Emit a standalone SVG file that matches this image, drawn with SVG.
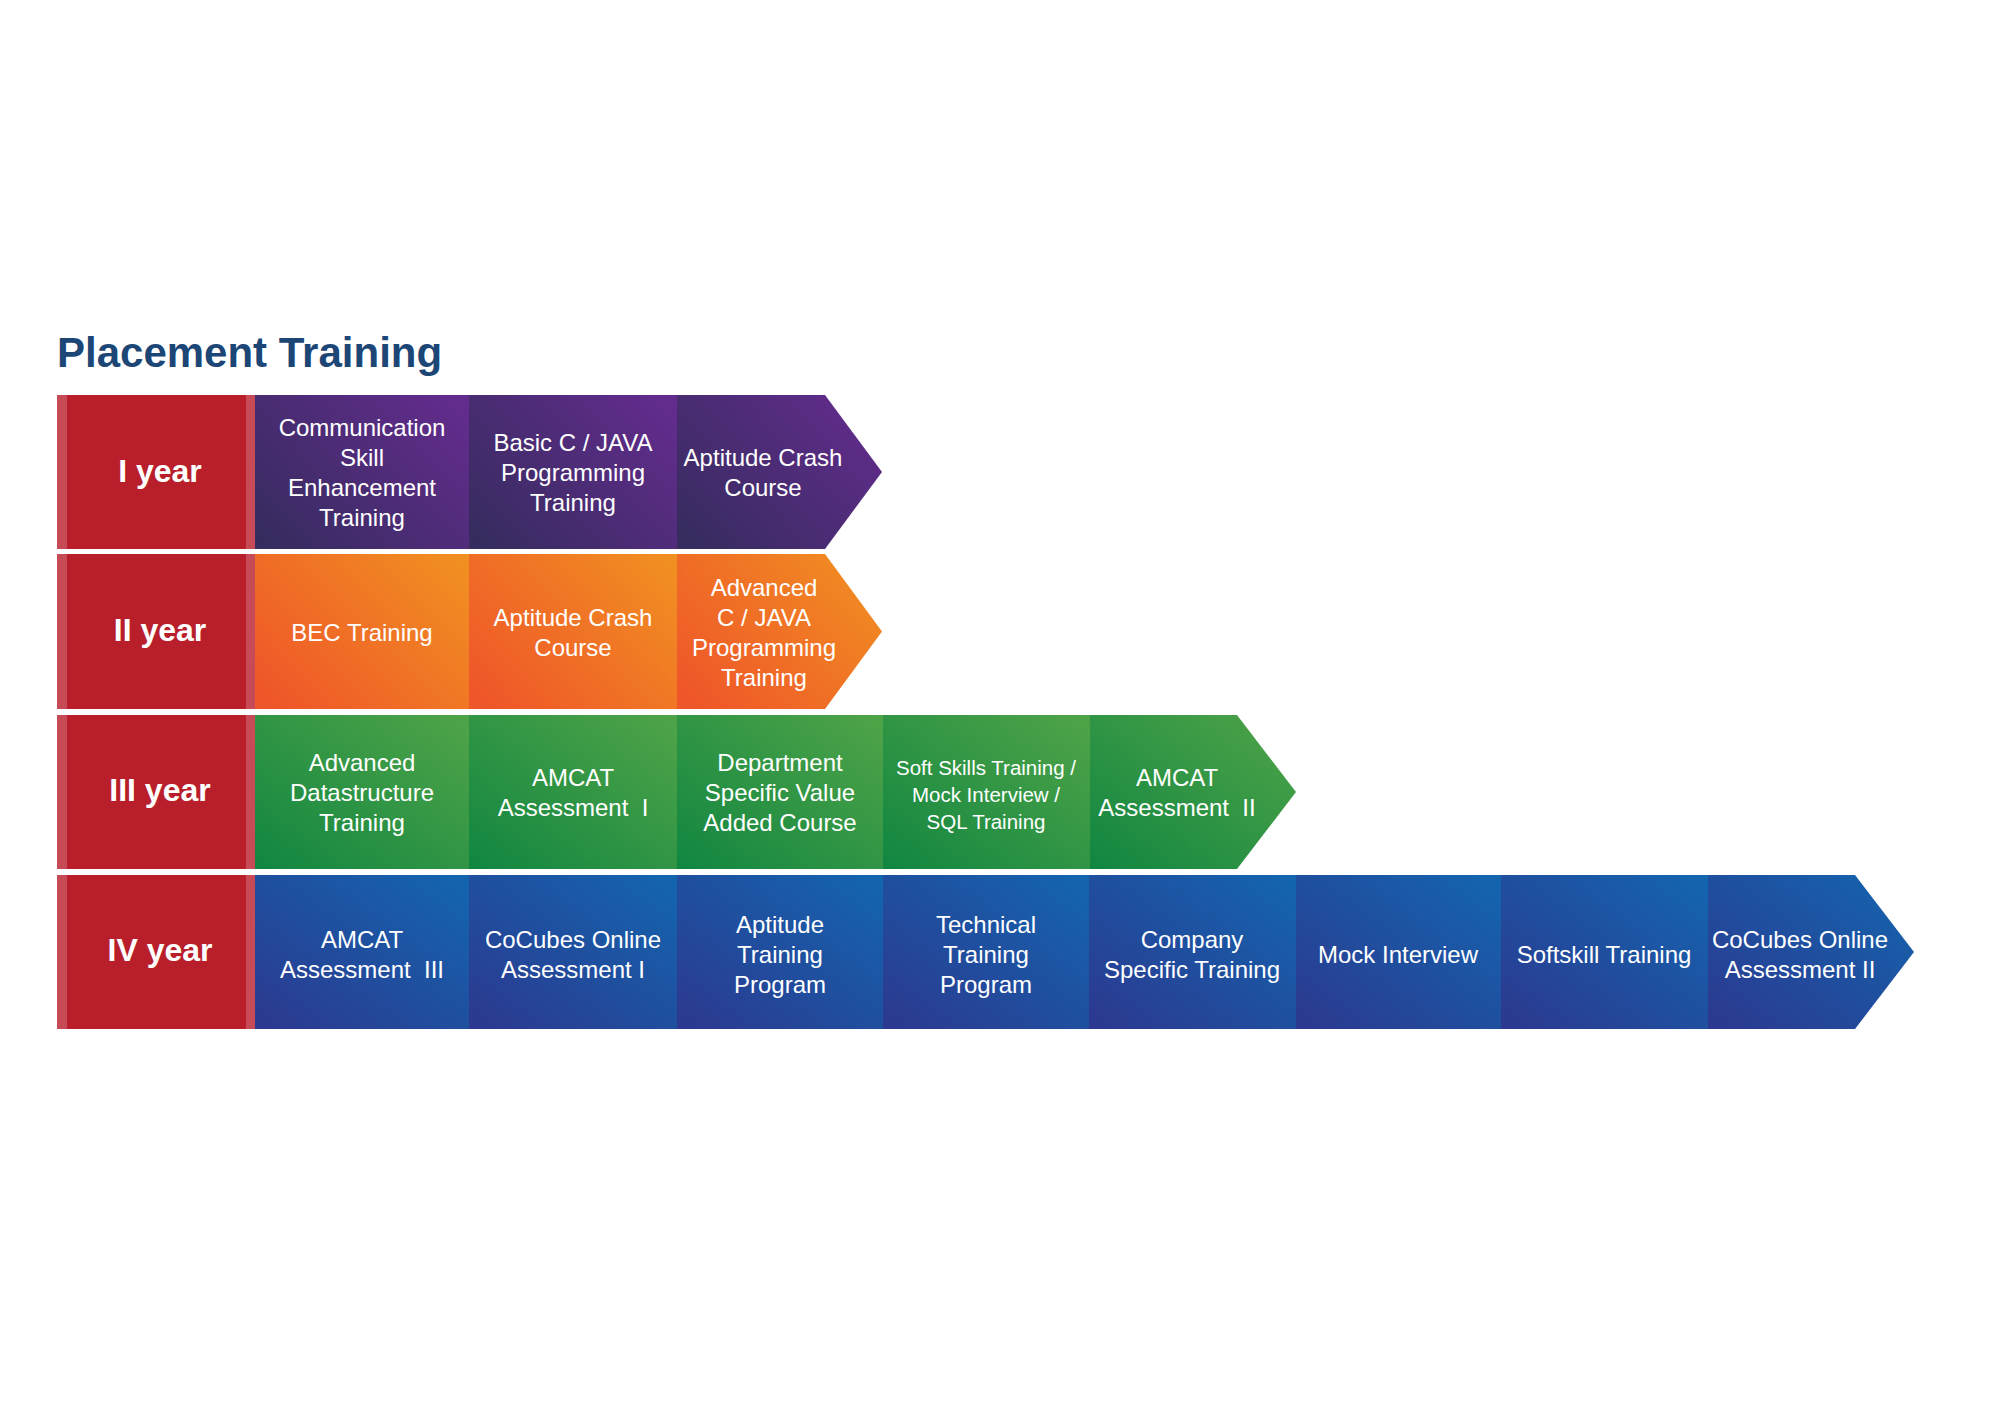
<svg xmlns="http://www.w3.org/2000/svg" width="2000" height="1414" viewBox="0 0 2000 1414">
  <defs>
    <linearGradient id="gPurple" x1="0" y1="0.85" x2="1" y2="0.15">
      <stop offset="0" stop-color="#372C60"/>
      <stop offset="1" stop-color="#622C8C"/>
    </linearGradient>
    <linearGradient id="gOrange" x1="0" y1="0.85" x2="1" y2="0.15">
      <stop offset="0" stop-color="#EF5629"/>
      <stop offset="1" stop-color="#F18E22"/>
    </linearGradient>
    <linearGradient id="gGreen" x1="0" y1="1" x2="1" y2="0">
      <stop offset="0" stop-color="#118641"/>
      <stop offset="1" stop-color="#50A448"/>
    </linearGradient>
    <linearGradient id="gBlue" x1="0" y1="1" x2="1" y2="0">
      <stop offset="0" stop-color="#2C388F"/>
      <stop offset="1" stop-color="#1366AF"/>
    </linearGradient>
    <style>
      .title { font-family: "Liberation Sans", Arial, sans-serif; font-weight: bold; font-size: 42px; fill: #1B4676; }
      .year { font-family: "Liberation Sans", Arial, sans-serif; font-weight: bold; font-size: 32px; fill: #FFFFFF; text-anchor: middle; }
      .lbl { font-family: "Liberation Sans", Arial, sans-serif; font-size: 24px; fill: #FFFFFF; text-anchor: middle; }
      .lbl-s { font-family: "Liberation Sans", Arial, sans-serif; font-size: 20.5px; fill: #FFFFFF; text-anchor: middle; }
      .yr-main { fill: #B81F2A; }
      .yr-edge { fill: #C64B56; }
      .purple { fill: url(#gPurple); }
      .orange { fill: url(#gOrange); }
      .green { fill: url(#gGreen); }
      .blue { fill: url(#gBlue); }
    </style>
  </defs>

  <rect x="0" y="0" width="2000" height="1414" fill="#FFFFFF"/>

  <text class="title" x="57" y="367">Placement Training</text>

  <!-- Year labels -->
  <g id="year-1">
    <rect class="yr-edge" x="57" y="395" width="198" height="154"/>
    <rect class="yr-main" x="67" y="395" width="179" height="154"/>
    <text class="year" x="160" y="482">I year</text>
  </g>
  <g id="year-2">
    <rect class="yr-edge" x="57" y="554" width="198" height="155"/>
    <rect class="yr-main" x="67" y="554" width="179" height="155"/>
    <text class="year" x="160" y="641">II year</text>
  </g>
  <g id="year-3">
    <rect class="yr-edge" x="57" y="715" width="198" height="154"/>
    <rect class="yr-main" x="67" y="715" width="179" height="154"/>
    <text class="year" x="160" y="801">III year</text>
  </g>
  <g id="year-4">
    <rect class="yr-edge" x="57" y="875" width="198" height="154"/>
    <rect class="yr-main" x="67" y="875" width="179" height="154"/>
    <text class="year" x="160" y="961">IV year</text>
  </g>

  <!-- I year: cells 395..549, centre 472 -->
  <g id="y1-communication">
    <rect class="purple" x="255" y="395" width="214" height="154"/>
    <text class="lbl" x="362" y="436">Communication</text>
    <text class="lbl" x="362" y="466">Skill</text>
    <text class="lbl" x="362" y="496">Enhancement</text>
    <text class="lbl" x="362" y="526">Training</text>
  </g>
  <g id="y1-basic-c-java">
    <rect class="purple" x="469" y="395" width="208" height="154"/>
    <text class="lbl" x="573" y="451">Basic C / JAVA</text>
    <text class="lbl" x="573" y="481">Programming</text>
    <text class="lbl" x="573" y="511">Training</text>
  </g>
  <g id="y1-aptitude-crash">
    <polygon class="purple" points="677,395 825,395 882,472 825,549 677,549"/>
    <text class="lbl" x="763" y="466">Aptitude Crash</text>
    <text class="lbl" x="763" y="496">Course</text>
  </g>

  <!-- II year: cells 554..709, centre 631.5 -->
  <g id="y2-bec">
    <rect class="orange" x="255" y="554" width="214" height="155"/>
    <text class="lbl" x="362" y="641">BEC Training</text>
  </g>
  <g id="y2-aptitude-crash">
    <rect class="orange" x="469" y="554" width="208" height="155"/>
    <text class="lbl" x="573" y="626">Aptitude Crash</text>
    <text class="lbl" x="573" y="656">Course</text>
  </g>
  <g id="y2-advanced-c-java">
    <polygon class="orange" points="677,554 825,554 882,631.5 825,709 677,709"/>
    <text class="lbl" x="764" y="596">Advanced</text>
    <text class="lbl" x="764" y="626">C / JAVA</text>
    <text class="lbl" x="764" y="656">Programming</text>
    <text class="lbl" x="764" y="686">Training</text>
  </g>

  <!-- III year: cells 715..869, centre 792 -->
  <g id="y3-datastructure">
    <rect class="green" x="255" y="715" width="214" height="154"/>
    <text class="lbl" x="362" y="771">Advanced</text>
    <text class="lbl" x="362" y="801">Datastructure</text>
    <text class="lbl" x="362" y="831">Training</text>
  </g>
  <g id="y3-amcat-1">
    <rect class="green" x="469" y="715" width="208" height="154"/>
    <text class="lbl" x="573" y="786">AMCAT</text>
    <text class="lbl" x="573" y="816" xml:space="preserve">Assessment  I</text>
  </g>
  <g id="y3-department-course">
    <rect class="green" x="677" y="715" width="206" height="154"/>
    <text class="lbl" x="780" y="771">Department</text>
    <text class="lbl" x="780" y="801">Specific Value</text>
    <text class="lbl" x="780" y="831">Added Course</text>
  </g>
  <g id="y3-soft-skills">
    <rect class="green" x="883" y="715" width="207" height="154"/>
    <text class="lbl-s" x="986" y="775">Soft Skills Training /</text>
    <text class="lbl-s" x="986" y="802">Mock Interview /</text>
    <text class="lbl-s" x="986" y="829">SQL Training</text>
  </g>
  <g id="y3-amcat-2">
    <polygon class="green" points="1090,715 1237,715 1296,792 1237,869 1090,869"/>
    <text class="lbl" x="1177" y="786">AMCAT</text>
    <text class="lbl" x="1177" y="816" xml:space="preserve">Assessment  II</text>
  </g>

  <!-- IV year: cells 875..1029, centre 952 -->
  <g id="y4-amcat-3">
    <rect class="blue" x="255" y="875" width="214" height="154"/>
    <text class="lbl" x="362" y="948">AMCAT</text>
    <text class="lbl" x="362" y="978" xml:space="preserve">Assessment  III</text>
  </g>
  <g id="y4-cocubes-1">
    <rect class="blue" x="469" y="875" width="208" height="154"/>
    <text class="lbl" x="573" y="948">CoCubes Online</text>
    <text class="lbl" x="573" y="978">Assessment I</text>
  </g>
  <g id="y4-aptitude-program">
    <rect class="blue" x="677" y="875" width="206" height="154"/>
    <text class="lbl" x="780" y="933">Aptitude</text>
    <text class="lbl" x="780" y="963">Training</text>
    <text class="lbl" x="780" y="993">Program</text>
  </g>
  <g id="y4-technical-program">
    <rect class="blue" x="883" y="875" width="206" height="154"/>
    <text class="lbl" x="986" y="933">Technical</text>
    <text class="lbl" x="986" y="963">Training</text>
    <text class="lbl" x="986" y="993">Program</text>
  </g>
  <g id="y4-company-specific">
    <rect class="blue" x="1089" y="875" width="207" height="154"/>
    <text class="lbl" x="1192" y="948">Company</text>
    <text class="lbl" x="1192" y="978">Specific Training</text>
  </g>
  <g id="y4-mock-interview">
    <rect class="blue" x="1296" y="875" width="205" height="154"/>
    <text class="lbl" x="1398" y="963">Mock Interview</text>
  </g>
  <g id="y4-softskill">
    <rect class="blue" x="1501" y="875" width="207" height="154"/>
    <text class="lbl" x="1604" y="963">Softskill Training</text>
  </g>
  <g id="y4-cocubes-2">
    <polygon class="blue" points="1708,875 1855,875 1914,952 1855,1029 1708,1029"/>
    <text class="lbl" x="1800" y="948">CoCubes Online</text>
    <text class="lbl" x="1800" y="978">Assessment II</text>
  </g>
</svg>
